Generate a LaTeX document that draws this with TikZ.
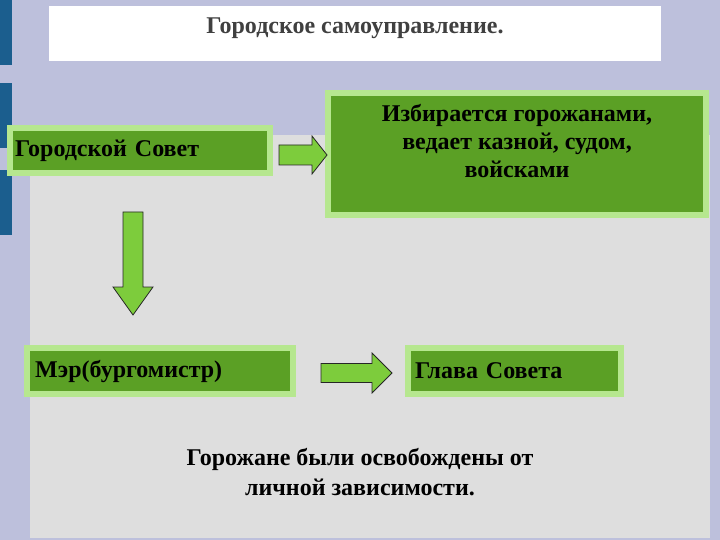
\documentclass[tikz,border=0pt]{standalone}
\usepackage{fontspec}
\setmainfont{Liberation Serif}
\usetikzlibrary{positioning,calc}

\definecolor{slidebg}{RGB}{189,192,220}
\definecolor{panelgray}{RGB}{222,222,222}
\definecolor{barblue}{RGB}{27,94,142}
\definecolor{boxfill}{RGB}{91,160,37}
\definecolor{boxedge}{RGB}{182,231,143}
\definecolor{arrowfill}{RGB}{125,204,60}
\definecolor{titlegray}{RGB}{64,64,64}

% block arrow: tail, tip, half shaft, half head, head length
\newcommand{\blockarrow}[5]{%
  \draw[barrow] ($(#1)!#3!90:(#2)$) -- ($($(#2)!#5!(#1)$)!#3!-90:(#1)$)
    -- ($($(#2)!#5!(#1)$)!#4!-90:(#1)$) -- (#2)
    -- ($($(#2)!#5!(#1)$)!#4!90:(#1)$) -- ($($(#2)!#5!(#1)$)!#3!90:(#1)$)
    -- ($(#1)!#3!-90:(#2)$) -- cycle;}

\begin{document}
\begin{tikzpicture}[x=1pt,y=-1pt,
    box/.style={draw=boxedge,line width=6pt,fill=boxfill,inner sep=0pt},
    boxtext/.style={font=\bfseries\fontsize{24}{28}\selectfont,inner sep=0pt},
    barrow/.style={draw=black!85,fill=arrowfill,line width=0.8pt,line join=miter}]
\useasboundingbox (0,0) rectangle (720,540);

% slide background
\fill[slidebg] (0,0) rectangle (720,540);
\fill[panelgray] (30,135) rectangle (710,538);
\fill[barblue] (0,0) rectangle (12,65);
\fill[barblue] (0,83) rectangle (12,148);
\fill[barblue] (0,170) rectangle (12,235);

% title
\node[fill=white,minimum width=612,minimum height=55,inner sep=0pt] (titlebox) at (355,33.5) {};
\node[boxtext,text=titlegray,below=12pt of titlebox.north] (title) {Городское самоуправление.};

% boxes
\node[box,minimum width=260,minimum height=45,text width=250,inner xsep=5pt,boxtext,align=left] (sovet) at (140,150.5) {Городской Совет};
\node[box,minimum width=378,minimum height=122] (izb) at (517,154) {};
\node[boxtext,align=center,below=14pt of izb.north] (izbtext) {Избирается горожанами,\\ведает казной, судом,\\войсками};
\node[box,minimum width=266,minimum height=46,text width=250,inner xsep=8pt,boxtext,align=left] (mayor) at (160,371) {Мэр(бургомистр)};
\node[box,minimum width=213,minimum height=46,text width=199,inner xsep=7pt,boxtext,align=left] (glava) at (514.5,371) {Глава Совета};

% arrows
\coordinate (a1tail) at ($(sovet.east)+(6,4.5)$);
\coordinate (a1tip) at ($(izb.west |- a1tail)+(2,0)$);
\blockarrow{a1tail}{a1tip}{10pt}{19pt}{15pt}
\coordinate (a2tail) at ($(sovet.south)+(-7,36)$);
\coordinate (a2tip) at ($(mayor.north -| a2tail)+(0,-30)$);
\blockarrow{a2tail}{a2tip}{10pt}{20pt}{28pt}
\coordinate (a3tail) at ($(mayor.east)+(25,2)$);
\coordinate (a3tip) at ($(glava.west)+(-13,2)$);
\blockarrow{a3tail}{a3tip}{9.5pt}{20pt}{20pt}

% note
\node[font=\bfseries\fontsize{24}{30}\selectfont,align=center] (note) at (360,472) {Горожане были освобождены от\\личной зависимости.};
\end{tikzpicture}
\end{document}
